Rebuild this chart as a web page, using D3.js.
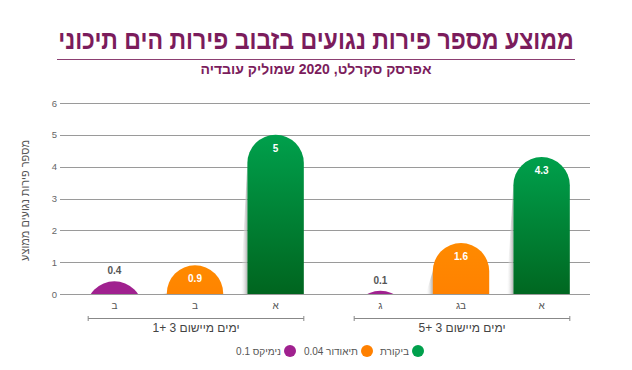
<!DOCTYPE html>
<html>
<head>
<meta charset="utf-8">
<script src="https://cdn.jsdelivr.net/npm/d3@7"></script>
<style>
  body { margin: 0; background: #fff; }
  text { font-family: "Liberation Sans", "DejaVu Sans", sans-serif; direction: rtl; }
</style>
</head>
<body>
<svg></svg>
<script>
const width = 632
const height = 370

// data
const groups = ["ימים מיישום 3 +1", "ימים מיישום 3 +5"]
const series = ["נימיקס 0.1", "תיאודור 0.04", "ביקורת"]
const valuesControl = [5, 4.3]
const valuesTheodor = [0.9, 1.6]
const valuesNimix = [0.4, 0.1]
const letters = [["ב", "ב", "א"], ["ג", "בג", "א"]]
const yTicks = [0, 1, 2, 3, 4, 5, 6]

const colors = ["#a0218f", "#ff8000", "#00a04c"]

const svg = d3.select('svg')
  .attr('width', width)
  .attr('height', height)

const defs = svg.append("defs")

const gGreen = defs.append("linearGradient").attr("id", "gGreen")
  .attr("x1", 0).attr("y1", 0).attr("x2", 0).attr("y2", 1)
gGreen.append("stop").attr("offset", "0%").attr("stop-color", "#00a04c")
gGreen.append("stop").attr("offset", "85%").attr("stop-color", "#005c18")
gGreen.append("stop").attr("offset", "100%").attr("stop-color", "#005c18")

const gOrange = defs.append("linearGradient").attr("id", "gOrange")
  .attr("x1", 0).attr("y1", 0).attr("x2", 0).attr("y2", 1)
gOrange.append("stop").attr("offset", "0%").attr("stop-color", "#ff8a00")
gOrange.append("stop").attr("offset", "100%").attr("stop-color", "#ff7800")

const gShadow = defs.append("linearGradient").attr("id", "gShadow")
  .attr("x1", 0).attr("y1", 0).attr("x2", 1).attr("y2", 0)
gShadow.append("stop").attr("offset", "0%").attr("stop-color", "#ffffff").attr("stop-opacity", 0)
gShadow.append("stop").attr("offset", "100%").attr("stop-color", "#a8a8a8").attr("stop-opacity", 0.9)

const fills = [colors[0], "url(#gOrange)", "url(#gGreen)"]

const margin = {left: 62, right: 40, top: 103, bottom: 76}
const base = height - margin.bottom

const y = d3.scaleLinear().domain([0, 6]).range([base, margin.top])
const x0 = d3.scaleBand().domain(groups).range([margin.left, 594])
const x1 = d3.scaleBand().domain(series).range([0, x0.bandwidth()]).padding(0.3)

defs.append("clipPath").attr("id", "plotClip")
  .append("rect").attr("x", 0).attr("y", 0).attr("width", width).attr("height", base)

// title - squeezed horizontally to the reference width
const title = svg.append("text")
  .attr("text-anchor", "middle")
  .style("font-family", "'Liberation Sans Narrow', 'Liberation Sans', sans-serif")
  .style("font-size", "27px").style("font-weight", "bold")
  .attr("fill", "#7b1c5c")
  .text("ממוצע מספר פירות נגועים בזבוב פירות הים תיכוני")
const titleLen = title.node().getComputedTextLength()
title.attr("transform", "translate(" + (width / 2) + ",49) scale(" + Math.min(1, 516 / titleLen) + ",1)")

svg.append("line")
  .attr("x1", 57).attr("x2", 575).attr("y1", 59.5).attr("y2", 59.5)
  .attr("stroke", "#8c3f72").attr("stroke-width", 1)

svg.append("text")
  .attr("x", width / 2).attr("y", 74)
  .attr("text-anchor", "middle")
  .style("font-size", "14px").style("font-weight", "bold")
  .attr("fill", "#7b1c5c")
  .text("אפרסק סקרלט, 2020 שמוליק עובדיה")

// grid + y ticks
svg.append("g").selectAll("line")
  .data(yTicks).enter().append("line")
  .attr("x1", margin.left - 2).attr("x2", 590)
  .attr("y1", d => Math.round(y(d)) + 0.5).attr("y2", d => Math.round(y(d)) + 0.5)
  .attr("stroke", "#9a9a9a").attr("stroke-width", 1)

svg.append("g").selectAll("text")
  .data(yTicks).enter().append("text")
  .attr("x", 57).attr("y", d => y(d) + 3.5)
  .attr("text-anchor", "end")
  .style("font-size", "9.5px").attr("fill", "#666")
  .style("direction", "ltr")
  .text(d => d)

svg.append("text")
  .attr("transform", "translate(29," + ((base + margin.top) / 2 + 2) + ") rotate(-90)")
  .attr("text-anchor", "middle")
  .style("font-size", "11px").attr("fill", "#555")
  .text("מספר פירות נגועים ממוצע")

// bars
const bars = []
groups.forEach((g, i) => {
  const vals = [valuesNimix[i], valuesTheodor[i], valuesControl[i]]
  series.forEach((s, j) => {
    bars.push({group: g, gi: i, s: s, si: j, value: vals[j], letter: letters[i][j],
      x: x0(g) + x1(s), w: x1.bandwidth()})
  })
})

const plot = svg.append("g")

plot.selectAll("polygon").data(bars.filter(d => d.si > 0)).enter().append("polygon")
  .attr("points", d => {
    const top = y(d.value) + d.w / 2
    return [[d.x - 7, base], [d.x, Math.min(top, base)], [d.x, base]].map(p => p.join(",")).join(" ")
  })
  .attr("fill", "url(#gShadow)")

plot.append("g").attr("clip-path", "url(#plotClip)")
  .selectAll("rect").data(bars).enter().append("rect")
  .attr("x", d => d.x)
  .attr("y", d => y(d.value))
  .attr("width", d => d.w)
  .attr("height", d => base - y(d.value) + d.w)
  .attr("rx", d => d.w / 2).attr("ry", d => d.w / 2)
  .attr("fill", d => fills[d.si])

plot.selectAll("text.val").data(bars).enter().append("text")
  .attr("class", "val")
  .attr("x", d => d.x + d.w / 2)
  .attr("y", d => d.si === 0 ? y(d.value) - 7 : y(d.value) + 17)
  .attr("text-anchor", "middle")
  .style("font-size", "10px").style("font-weight", "bold")
  .style("direction", "ltr")
  .attr("fill", d => d.si === 0 ? "#555" : "#fff")
  .text(d => d.value)

// category letters
svg.append("g").selectAll("text").data(bars).enter().append("text")
  .attr("x", d => d.x + d.w / 2)
  .attr("y", base + 15)
  .attr("text-anchor", "middle")
  .style("font-size", "10px").attr("fill", "#555")
  .text(d => d.letter)

// group brackets
const brackets = svg.append("g").selectAll("g").data(groups).enter().append("g")
brackets.each(function (g) {
  const left = x0(g) + x1(series[0]) + 2
  const right = x0(g) + x1(series[2]) + x1.bandwidth()
  const b = d3.select(this)
  b.append("line").attr("x1", left).attr("x2", right).attr("y1", 318.5).attr("y2", 318.5)
    .attr("stroke", "#888")
  b.append("line").attr("x1", left).attr("x2", left).attr("y1", 316).attr("y2", 321).attr("stroke", "#888")
  b.append("line").attr("x1", right).attr("x2", right).attr("y1", 316).attr("y2", 321).attr("stroke", "#888")
  b.append("text").attr("x", (left + right) / 2).attr("y", 332)
    .attr("text-anchor", "middle")
    .style("font-size", "12px").attr("fill", "#444")
    .text(g)
})

// legend
const legendX = [418, 367, 290]
const legendOrder = [2, 1, 0]
const legend = svg.append("g").selectAll("g").data(legendOrder).enter().append("g")
  .attr("transform", (d, i) => "translate(" + legendX[i] + ",351)")
legend.append("circle").attr("r", 6).attr("fill", d => colors[d])
legend.append("text").attr("x", -9).attr("y", 3.5)
  .attr("text-anchor", "start")
  .style("font-size", "10px").attr("fill", "#555")
  .text(d => series[d])
</script>
</body>
</html>
